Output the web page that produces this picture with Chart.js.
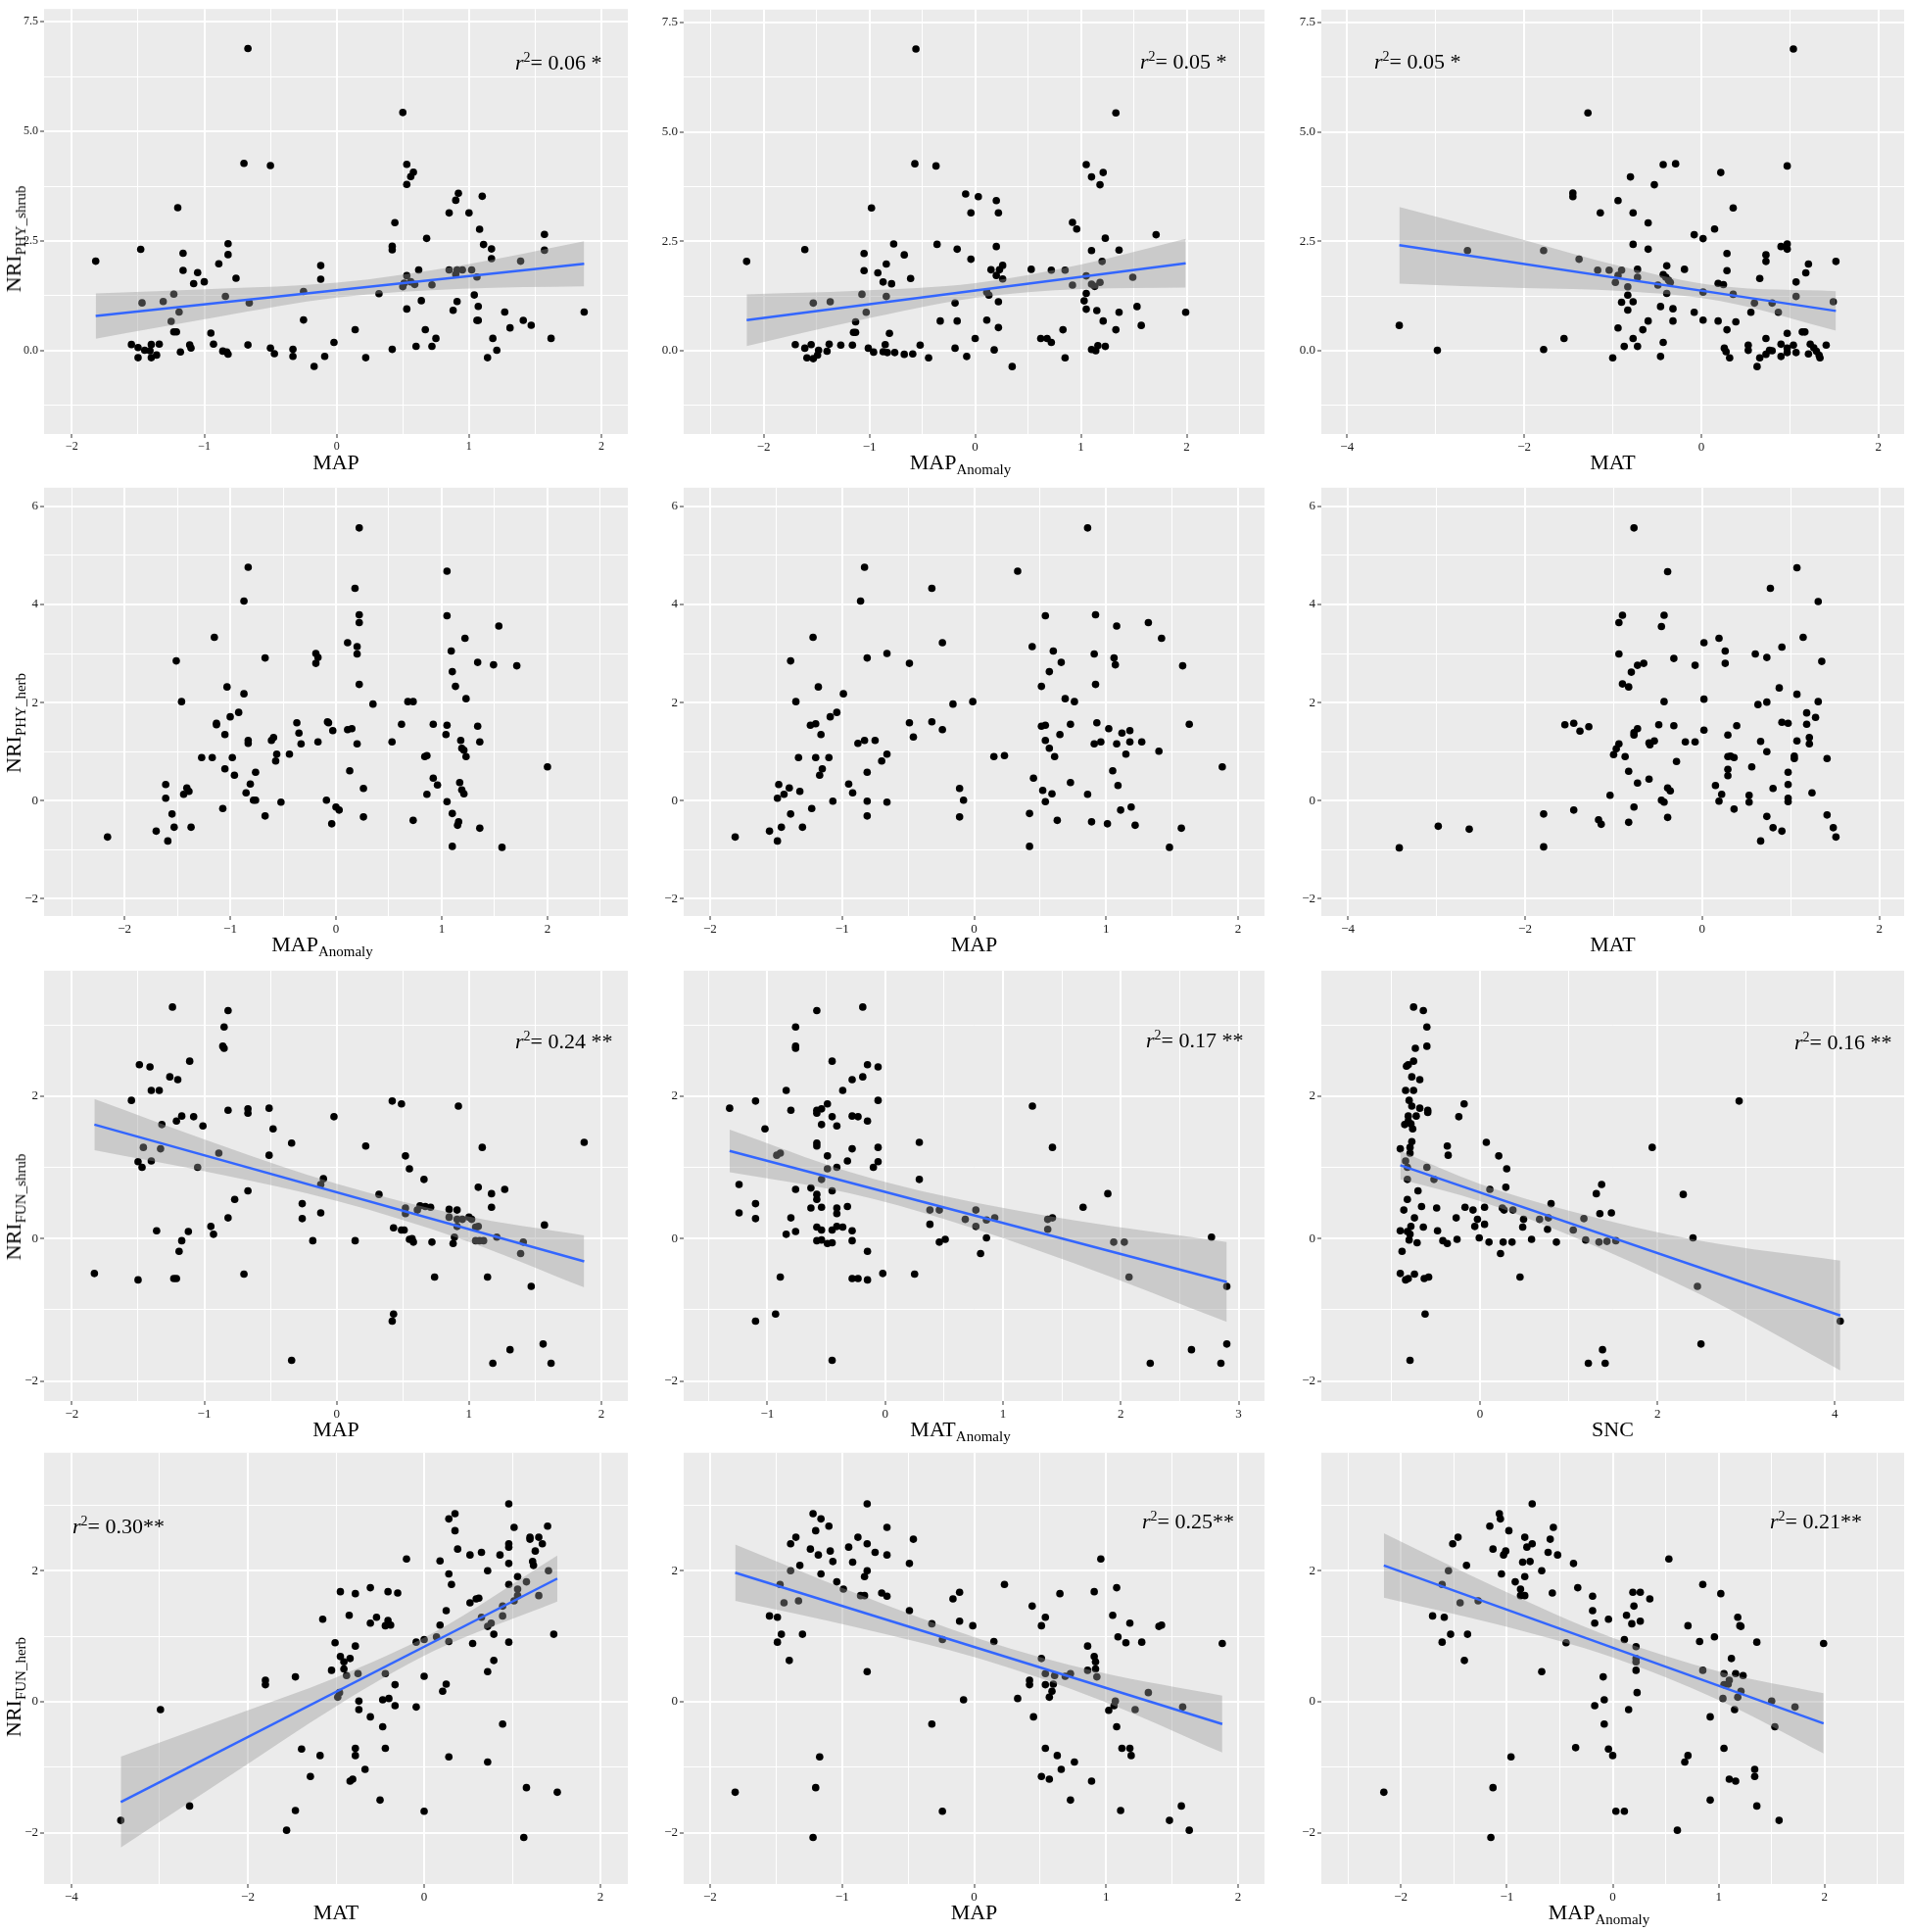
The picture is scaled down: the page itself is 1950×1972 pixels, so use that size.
<!DOCTYPE html>
<html>
<head>
<meta charset="utf-8">
<script src="https://cdn.jsdelivr.net/npm/chart.js@4.4.0/dist/chart.umd.min.js"></script>
<style>
  body { margin: 0; background: #fff; }
  #page { position: relative; width: 1950px; height: 1972px; overflow: hidden;
          font-family: "Liberation Serif", "Times New Roman", serif; color: #000; }
  .xt { position: absolute; font-size: 22px; line-height: 1; white-space: nowrap; transform: translateX(-50%); }
  .yt { position: absolute; font-size: 22px; line-height: 1; white-space: nowrap; transform: translate(-50%, -50%) rotate(-90deg); }
  .xt sub, .yt sub { font-size: 15px; vertical-align: -5px; }
  .note { position: absolute; font-size: 22px; line-height: 1; white-space: nowrap; transform: translateY(-50%); }
  .note sup { font-size: 14px; vertical-align: 8px; }
</style>
</head>
<body>
<div id="page"></div>
<script>
// tick labels (major) and minor grid positions
const mapTicks = [-2, -1, 0, 1, 2];
const mapMinor = [-1.5, -0.5, 0.5, 1.5];
const anomTicks = [-2, -1, 0, 1, 2];
const anomMinor = [-2.5, -1.5, -0.5, 0.5, 1.5, 2.5];
const matTicks = [-4, -2, 0, 2];
const matMinor = [-3, -1, 1];
const matAnomTicks = [-1, 0, 1, 2, 3];
const matAnomMinor = [-1.5, -0.5, 0.5, 1.5, 2.5];
const sncTicks = [0, 2, 4];
const sncMinor = [-1, 1, 3];
const phyShrubTicks = [0, 2.5, 5, 7.5];
const phyShrubMinor = [-1.25, 1.25, 3.75, 6.25];
const phyHerbTicks = [-2, 0, 2, 4, 6];
const phyHerbMinor = [-1, 1, 3, 5];
const funTicks = [-2, 0, 2];
const funMinor = [-1, 1, 3];

// NRI_PHY_shrub
const phyShrubMAP = [[-1.82,2.04],[-1.55,0.14],[-1.50,0.07],[-1.50,-0.16],[-1.48,2.31],[-1.47,1.09],[-1.45,0.01],[-1.41,0.00],[-1.40,0.14],[-1.40,-0.16],
[-1.36,-0.10],[-1.34,0.15],[-1.31,1.12],[-1.25,0.67],[-1.23,1.29],[-1.23,0.43],[-1.21,0.43],[-1.20,3.26],[-1.19,0.88],[-1.18,-0.03],
[-1.16,2.22],[-1.16,1.83],[-1.11,0.13],[-1.10,0.06],[-1.08,1.53],[-1.05,1.78],[-1.00,1.57],[-0.95,0.40],[-0.93,0.15],[-0.89,1.98],
[-0.86,-0.01],[-0.84,1.24],[-0.83,-0.03],[-0.82,-0.08],[-0.82,2.19],[-0.82,2.44],[-0.76,1.65],[-0.70,4.27],[-0.67,6.89],[-0.67,0.13],
[-0.66,1.09],[-0.50,4.22],[-0.50,0.06],[-0.47,-0.07],[-0.33,0.03],[-0.33,-0.13],[-0.25,1.35],[-0.25,0.70],[-0.17,-0.36],[-0.12,1.94],
[-0.12,1.63],[-0.09,-0.13],[-0.02,0.19],[0.14,0.48],[0.22,-0.16],[0.32,1.30],[0.42,0.03],[0.42,2.30],[0.42,2.38],[0.44,2.92],
[0.50,5.43],[0.50,1.46],[0.51,1.54],[0.53,4.25],[0.53,3.79],[0.53,1.71],[0.53,0.95],[0.56,3.97],[0.56,1.57],[0.58,4.07],
[0.59,1.51],[0.60,0.10],[0.62,1.84],[0.64,1.14],[0.67,0.48],[0.68,2.56],[0.72,1.50],[0.72,0.10],[0.75,0.28],[0.85,3.14],
[0.85,1.84],[0.88,0.92],[0.90,3.43],[0.90,1.74],[0.91,1.84],[0.91,1.12],[0.92,3.59],[0.95,1.84],[1.00,3.14],[1.02,1.84],
[1.04,1.27],[1.06,1.68],[1.06,0.69],[1.07,1.01],[1.07,0.69],[1.08,2.77],[1.10,3.52],[1.11,2.42],[1.14,-0.16],[1.17,2.32],
[1.17,2.10],[1.18,0.28],[1.21,0.01],[1.27,0.88],[1.31,0.52],[1.39,2.04],[1.41,0.69],[1.47,0.58],[1.57,2.65],[1.57,2.29],
[1.62,0.28],[1.87,0.88]];
const fitPhyShrubMAP = [[-1.82,0.79],[1.87,1.98]];
const bandPhyShrubMAP = [[-1.82,0.275,1.305],[-0.9,0.77,1.41],[0.0,1.21,1.55],[0.95,1.41,1.95],[1.87,1.465,2.495]];

const phyShrubMAPAnom = [[-2.16,2.04],[-1.70,0.14],[-1.61,2.31],[-1.61,0.06],[-1.59,-0.16],[-1.55,0.14],[-1.53,1.09],[-1.53,-0.18],[-1.49,-0.10],[-1.48,0.01],
[-1.40,-0.01],[-1.38,0.15],[-1.37,1.12],[-1.27,0.13],[-1.16,0.13],[-1.15,0.42],[-1.13,0.42],[-1.13,0.66],[-1.07,1.29],[-1.05,2.22],
[-1.05,1.83],[-1.03,0.88],[-1.01,0.06],[-0.98,3.26],[-0.96,-0.03],[-0.92,1.78],[-0.87,1.57],[-0.87,-0.02],[-0.85,0.14],[-0.84,1.98],
[-0.84,1.24],[-0.83,-0.04],[-0.81,0.40],[-0.79,1.53],[-0.77,2.44],[-0.76,-0.04],[-0.67,2.19],[-0.67,-0.08],[-0.61,1.65],[-0.59,-0.07],
[-0.57,4.27],[-0.56,6.89],[-0.52,0.13],[-0.44,-0.16],[-0.37,4.22],[-0.36,2.43],[-0.33,0.68],[-0.19,0.06],[-0.19,1.09],[-0.17,2.32],
[-0.17,0.68],[-0.09,3.58],[-0.08,-0.13],[-0.04,3.15],[-0.04,2.09],[0.00,0.28],[0.03,3.52],[0.11,0.70],[0.11,1.34],[0.13,1.27],
[0.15,1.85],[0.18,0.02],[0.20,3.43],[0.20,2.38],[0.20,1.72],[0.22,3.15],[0.22,1.12],[0.22,0.53],[0.23,1.85],[0.26,1.95],
[0.26,1.64],[0.35,-0.36],[0.53,1.86],[0.62,0.28],[0.68,0.28],[0.72,1.84],[0.72,0.19],[0.83,0.48],[0.85,1.84],[0.85,-0.16],
[0.92,2.93],[0.92,1.50],[0.96,2.78],[1.03,1.14],[1.05,4.25],[1.05,1.71],[1.05,0.95],[1.05,1.31],[1.10,3.97],[1.10,2.29],
[1.10,0.03],[1.10,1.52],[1.13,1.47],[1.14,0.00],[1.15,0.92],[1.16,0.12],[1.18,1.56],[1.18,3.79],[1.20,2.04],[1.21,4.07],
[1.21,0.68],[1.23,2.57],[1.23,0.10],[1.33,5.43],[1.33,0.48],[1.36,2.30],[1.36,0.88],[1.49,1.68],[1.53,1.01],[1.57,0.58],
[1.71,2.65],[1.99,0.88]];
const fitPhyShrubMAPAnom = [[-2.16,0.70],[1.99,2.00]];
const bandPhyShrubMAPAnom = [[-2.16,0.11,1.29],[-1.1,0.692,1.372],[0.0,1.207,1.547],[1.0,1.41,1.97],[1.99,1.445,2.555]];

const phyShrubMAT = [[-3.41,0.58],[-2.98,0.01],[-2.64,2.29],[-1.78,2.29],[-1.78,0.03],[-1.55,0.28],[-1.45,3.60],[-1.45,3.52],[-1.38,2.09],[-1.28,5.43],
[-1.17,1.84],[-1.14,3.15],[-1.04,1.84],[-1.00,-0.16],[-0.97,1.56],[-0.94,3.43],[-0.94,1.72],[-0.94,0.52],[-0.90,1.11],[-0.90,1.84],
[-0.87,0.10],[-0.83,1.46],[-0.83,1.27],[-0.83,0.93],[-0.80,3.97],[-0.77,3.15],[-0.77,2.43],[-0.77,1.12],[-0.77,0.28],[-0.72,1.86],
[-0.72,1.68],[-0.72,0.10],[-0.66,0.48],[-0.60,2.92],[-0.60,2.32],[-0.60,0.68],[-0.53,3.79],[-0.49,1.50],[-0.46,1.01],[-0.46,-0.13],
[-0.43,4.25],[-0.43,0.19],[-0.43,1.74],[-0.40,1.68],[-0.39,1.94],[-0.39,1.31],[-0.37,1.61],[-0.35,1.56],[-0.32,0.96],[-0.32,0.68],
[-0.29,4.27],[-0.19,1.86],[-0.08,2.65],[-0.08,0.88],[0.02,2.56],[0.02,1.34],[0.02,0.70],[0.15,2.78],[0.19,1.54],[0.19,0.68],
[0.22,4.07],[0.25,1.51],[0.26,0.06],[0.28,-0.02],[0.29,2.22],[0.29,1.83],[0.29,0.48],[0.32,-0.16],[0.36,3.26],[0.36,1.29],
[0.39,0.66],[0.53,0.13],[0.53,0.01],[0.56,0.88],[0.60,1.09],[0.63,-0.36],[0.66,1.65],[0.66,-0.16],[0.73,0.28],[0.73,2.19],
[0.73,2.04],[0.73,-0.08],[0.77,0.01],[0.80,0.00],[0.80,1.09],[0.87,0.88],[0.90,2.38],[0.90,0.15],[0.90,-0.13],[0.97,4.22],
[0.97,2.44],[0.97,2.32],[0.97,0.40],[0.97,0.06],[0.97,-0.04],[1.04,6.89],[1.04,0.13],[1.07,1.57],[1.07,1.24],[1.07,-0.04],
[1.14,0.43],[1.17,0.43],[1.18,1.78],[1.21,-0.07],[1.21,1.98],[1.23,0.15],[1.27,0.07],[1.30,-0.01],[1.33,-0.10],[1.34,-0.16],
[1.41,0.13],[1.49,1.12],[1.52,2.04]];
const fitPhyShrubMAT = [[-3.41,2.41],[1.52,0.91]];
const bandPhyShrubMAT = [[-3.41,1.535,3.285],[-2.0,1.431,2.531],[-0.9,1.366,1.926],[0.2,1.141,1.481],[1.52,0.46,1.36]];

// NRI_PHY_herb
const phyHerbMAPAnom = [[-2.16,-0.74],[-1.70,-0.62],[-1.61,0.33],[-1.61,0.05],[-1.59,-0.82],[-1.55,-0.27],[-1.53,-0.54],[-1.51,2.85],[-1.46,2.02],[-1.44,0.13],
[-1.41,0.26],[-1.39,0.19],[-1.37,-0.54],[-1.27,0.88],[-1.17,0.88],[-1.15,3.33],[-1.13,1.55],[-1.13,1.58],[-1.07,-0.16],[-1.05,0.65],
[-1.05,1.35],[-1.03,2.32],[-1.00,1.71],[-0.98,0.88],[-0.96,0.52],[-0.92,1.80],[-0.87,2.18],[-0.87,4.07],[-0.85,0.16],[-0.83,4.76],
[-0.83,1.23],[-0.83,1.17],[-0.81,0.34],[-0.78,0.01],[-0.76,0.01],[-0.76,0.58],[-0.67,2.91],[-0.67,-0.31],[-0.61,1.23],[-0.59,1.29],
[-0.56,0.95],[-0.57,0.81],[-0.52,-0.03],[-0.44,0.95],[-0.37,1.59],[-0.35,1.38],[-0.33,1.16],[-0.19,3.00],[-0.19,2.80],[-0.17,2.92],
[-0.17,1.20],[-0.09,0.01],[-0.08,1.61],[-0.07,1.59],[-0.04,-0.47],[-0.03,1.43],[0.00,-0.13],[0.03,-0.19],[0.11,3.22],[0.11,1.45],
[0.13,0.61],[0.15,1.47],[0.18,4.33],[0.20,3.14],[0.20,2.99],[0.20,1.16],[0.22,5.56],[0.22,3.79],[0.22,3.63],[0.22,2.37],
[0.26,0.25],[0.26,-0.33],[0.35,1.97],[0.53,1.20],[0.62,1.56],[0.68,2.02],[0.73,2.02],[0.73,-0.40],[0.84,0.90],[0.86,0.92],
[0.86,0.13],[0.92,1.56],[0.92,0.46],[0.96,0.32],[1.04,1.35],[1.05,4.68],[1.05,3.77],[1.05,1.54],[1.05,-0.02],[1.09,3.05],
[1.10,2.63],[1.10,-0.26],[1.10,-0.93],[1.13,2.33],[1.15,-0.50],[1.16,-0.43],[1.17,0.37],[1.18,1.23],[1.19,1.07],[1.19,0.22],
[1.21,1.03],[1.21,0.14],[1.22,3.31],[1.23,2.08],[1.23,0.90],[1.34,2.82],[1.34,1.52],[1.36,1.20],[1.36,-0.56],[1.49,2.77],
[1.54,3.56],[1.57,-0.95],[1.71,2.75],[2.00,0.69]];

const phyHerbMAP = [[-1.81,-0.74],[-1.55,-0.62],[-1.49,0.05],[-1.49,-0.82],[-1.48,0.33],[-1.46,-0.54],[-1.44,0.13],[-1.40,0.26],[-1.39,2.85],[-1.39,-0.27],
[-1.35,2.02],[-1.33,0.88],[-1.32,0.19],[-1.30,-0.54],[-1.24,1.54],[-1.23,-0.16],[-1.22,3.33],[-1.20,1.57],[-1.20,0.88],[-1.18,2.32],
[-1.17,0.52],[-1.16,1.35],[-1.15,0.65],[-1.10,0.88],[-1.09,1.71],[-1.07,-0.01],[-1.04,1.80],[-0.99,2.18],[-0.95,0.34],[-0.92,0.16],
[-0.88,1.17],[-0.86,4.07],[-0.83,4.76],[-0.83,1.23],[-0.81,2.91],[-0.81,0.58],[-0.81,-0.01],[-0.81,-0.31],[-0.75,1.23],[-0.70,0.81],
[-0.66,0.95],[-0.66,-0.03],[-0.66,3.00],[-0.49,2.80],[-0.49,1.59],[-0.46,1.30],[-0.32,4.33],[-0.32,1.61],[-0.24,1.45],[-0.24,3.22],
[-0.16,1.97],[-0.11,0.25],[-0.11,-0.33],[-0.08,0.01],[-0.01,2.02],[0.15,0.90],[0.23,0.92],[0.33,4.68],[0.42,-0.26],[0.42,-0.93],
[0.44,3.14],[0.45,0.46],[0.51,2.33],[0.51,1.52],[0.52,0.21],[0.54,3.77],[0.54,1.54],[0.54,1.23],[0.54,-0.02],[0.57,2.63],
[0.57,1.07],[0.59,0.14],[0.60,3.05],[0.61,0.90],[0.63,-0.40],[0.65,1.35],[0.66,2.82],[0.69,2.08],[0.73,1.56],[0.73,0.37],
[0.76,2.02],[0.86,5.56],[0.86,0.13],[0.89,-0.43],[0.91,2.99],[0.91,1.16],[0.92,3.79],[0.92,2.37],[0.93,1.59],[0.96,1.20],
[1.01,-0.47],[1.02,1.47],[1.05,0.61],[1.06,2.91],[1.07,2.77],[1.08,3.56],[1.08,1.16],[1.09,0.31],[1.11,-0.19],[1.12,1.38],
[1.15,0.95],[1.18,1.43],[1.18,1.20],[1.19,-0.13],[1.22,-0.50],[1.27,1.20],[1.32,3.63],[1.40,1.01],[1.42,3.31],[1.48,-0.95],
[1.57,-0.56],[1.58,2.75],[1.63,1.56],[1.88,0.69]];

const phyHerbMAT = [[-3.42,-0.96],[-2.98,-0.52],[-2.63,-0.58],[-1.79,-0.27],[-1.79,-0.94],[-1.55,1.55],[-1.45,-0.19],[-1.45,1.58],[-1.38,1.42],[-1.28,1.51],
[-1.17,-0.39],[-1.14,-0.48],[-1.04,0.11],[-1.00,0.94],[-0.97,1.06],[-0.94,3.63],[-0.94,2.99],[-0.94,1.16],[-0.90,3.78],[-0.90,2.38],
[-0.87,0.90],[-0.83,2.32],[-0.83,0.60],[-0.83,-0.44],[-0.80,2.62],[-0.77,5.56],[-0.77,1.34],[-0.77,-0.13],[-0.77,1.39],[-0.73,0.36],
[-0.73,2.76],[-0.73,1.47],[-0.66,2.80],[-0.60,1.18],[-0.60,0.44],[-0.59,1.14],[-0.54,1.22],[-0.49,1.55],[-0.46,3.55],[-0.46,0.01],
[-0.43,3.78],[-0.43,2.02],[-0.43,-0.03],[-0.39,4.67],[-0.39,0.26],[-0.39,-0.34],[-0.36,0.20],[-0.32,2.90],[-0.32,1.53],[-0.29,0.80],
[-0.19,1.20],[-0.08,2.76],[-0.08,1.20],[0.02,3.22],[0.02,2.07],[0.02,1.44],[0.15,0.31],[0.19,3.31],[0.19,-0.01],[0.22,0.13],
[0.26,3.05],[0.26,2.80],[0.29,1.34],[0.29,0.90],[0.29,0.64],[0.29,0.51],[0.32,0.91],[0.36,0.88],[0.36,-0.17],[0.39,1.53],
[0.53,0.11],[0.53,-0.03],[0.56,0.69],[0.60,2.99],[0.63,1.96],[0.66,1.21],[0.66,-0.82],[0.73,2.92],[0.73,2.01],[0.73,1.00],
[0.73,-0.32],[0.77,4.33],[0.80,0.25],[0.80,-0.55],[0.87,2.30],[0.90,3.13],[0.90,1.60],[0.90,-0.62],[0.97,1.58],[0.97,0.58],
[0.97,0.33],[0.97,0.05],[0.97,-0.02],[1.04,0.91],[1.04,0.86],[1.07,4.75],[1.07,2.17],[1.07,1.22],[1.14,3.33],[1.18,1.79],
[1.18,1.56],[1.21,1.29],[1.21,1.16],[1.24,0.16],[1.28,1.70],[1.31,4.06],[1.31,2.02],[1.35,2.84],[1.41,0.86],[1.41,-0.29],
[1.48,-0.55],[1.51,-0.74]];

// NRI_FUN_shrub
const funShrubMAP = [[-1.83,-0.49],[-1.55,1.94],[-1.50,1.08],[-1.50,-0.58],[-1.49,2.44],[-1.47,1.00],[-1.46,1.28],[-1.41,2.41],[-1.40,2.08],[-1.40,1.09],
[-1.36,0.11],[-1.34,2.08],[-1.33,1.26],[-1.32,1.60],[-1.26,2.27],[-1.24,3.25],[-1.23,-0.56],[-1.21,-0.56],[-1.21,1.65],[-1.20,2.23],
[-1.19,-0.18],[-1.17,-0.03],[-1.17,1.72],[-1.12,0.10],[-1.11,2.49],[-1.08,1.71],[-1.05,1.00],[-1.01,1.58],[-0.95,0.17],[-0.93,0.06],
[-0.89,1.20],[-0.86,2.70],[-0.85,2.67],[-0.85,2.97],[-0.82,3.20],[-0.82,1.80],[-0.82,0.29],[-0.77,0.55],[-0.70,-0.50],[-0.67,1.82],
[-0.67,1.76],[-0.67,0.67],[-0.51,1.83],[-0.51,1.17],[-0.48,1.54],[-0.34,1.34],[-0.34,-1.71],[-0.26,0.49],[-0.26,0.28],[-0.18,-0.03],
[-0.12,0.36],[-0.12,0.76],[-0.10,0.84],[-0.02,1.71],[0.14,-0.03],[0.22,1.30],[0.32,0.62],[0.42,1.93],[0.42,-1.16],[0.43,-1.06],
[0.43,0.15],[0.49,1.89],[0.49,0.12],[0.51,0.12],[0.52,1.16],[0.52,0.43],[0.52,0.35],[0.55,0.98],[0.55,-0.01],[0.57,0.00],
[0.58,-0.05],[0.61,0.40],[0.63,0.46],[0.66,0.83],[0.67,0.45],[0.71,0.44],[0.72,-0.05],[0.74,-0.54],[0.85,0.41],[0.85,0.30],
[0.88,-0.07],[0.89,0.02],[0.91,0.40],[0.91,0.27],[0.91,0.17],[0.92,1.86],[0.95,0.27],[1.00,0.30],[1.02,0.27],[1.05,0.16],
[1.05,-0.03],[1.07,0.72],[1.07,0.17],[1.08,-0.03],[1.10,1.28],[1.11,-0.03],[1.14,-0.54],[1.17,0.63],[1.17,0.44],[1.18,-1.75],
[1.21,0.02],[1.27,0.69],[1.31,-1.56],[1.39,-0.21],[1.41,-0.05],[1.47,-0.67],[1.56,-1.48],[1.57,0.19],[1.62,-1.75],[1.87,1.35]];
const fitFunShrubMAP = [[-1.83,1.60],[1.87,-0.32]];
const bandFunShrubMAP = [[-1.83,1.24,1.96],[-0.9,0.907,1.327],[0.0,0.53,0.77],[0.95,-0.013,0.327],[1.87,-0.685,0.045]];

const funShrubMATAnom = [[-1.32,1.83],[-1.24,0.76],[-1.24,0.36],[-1.10,1.93],[-1.10,0.49],[-1.10,0.28],[-1.10,-1.16],[-1.02,1.54],[-0.93,-1.06],[-0.92,1.17],
[-0.89,1.20],[-0.89,-0.54],[-0.84,2.08],[-0.84,0.06],[-0.80,1.80],[-0.80,0.29],[-0.76,2.97],[-0.76,2.70],[-0.76,2.67],[-0.76,0.69],
[-0.76,0.10],[-0.63,0.71],[-0.63,0.43],[-0.58,3.20],[-0.58,1.80],[-0.58,1.76],[-0.58,1.34],[-0.58,1.30],[-0.58,0.62],[-0.58,0.55],
[-0.58,0.16],[-0.58,-0.03],[-0.54,1.82],[-0.54,1.60],[-0.54,0.83],[-0.54,0.44],[-0.54,0.12],[-0.54,-0.02],[-0.49,1.89],[-0.49,1.16],
[-0.49,0.98],[-0.49,-0.07],[-0.45,2.49],[-0.45,1.71],[-0.45,0.67],[-0.45,0.12],[-0.45,-0.06],[-0.45,-1.71],[-0.41,1.58],[-0.41,1.00],
[-0.41,0.43],[-0.41,0.35],[-0.41,0.17],[-0.36,0.16],[-0.36,2.08],[-0.32,1.09],[-0.32,0.45],[-0.28,2.23],[-0.28,1.72],[-0.28,1.26],
[-0.28,0.11],[-0.28,-0.03],[-0.28,-0.56],[-0.23,1.71],[-0.23,-0.56],[-0.19,3.25],[-0.19,2.27],[-0.15,2.44],[-0.15,1.65],[-0.15,-0.18],
[-0.15,-0.58],[-0.10,1.00],[-0.06,2.41],[-0.06,1.94],[-0.06,1.28],[-0.06,1.08],[-0.02,-0.49],[0.25,-0.50],[0.29,1.35],[0.29,0.83],
[0.38,0.40],[0.38,0.20],[0.46,0.40],[0.46,-0.05],[0.51,-0.01],[0.68,0.27],[0.77,0.40],[0.77,0.17],[0.81,-0.21],[0.86,0.26],
[0.86,0.01],[0.93,0.29],[1.25,1.86],[1.38,0.27],[1.38,0.13],[1.42,0.29],[1.42,1.28],[1.68,0.44],[1.89,0.63],[1.94,-0.05],
[2.03,-0.05],[2.07,-0.54],[2.25,-1.75],[2.60,-1.56],[2.77,0.02],[2.85,-1.75],[2.90,-0.67],[2.90,-1.48]];
const fitFunShrubMATAnom = [[-1.32,1.23],[2.90,-0.61]];
const bandFunShrubMATAnom = [[-1.32,0.93,1.53],[-0.3,0.635,0.935],[0.5,0.276,0.596],[1.6,-0.344,0.256],[2.9,-1.17,-0.05]];

const funShrubSNC = [[-0.90,1.26],[-0.90,0.11],[-0.90,-0.49],[-0.88,-0.18],[-0.86,0.40],[-0.85,1.60],[-0.84,2.08],[-0.84,1.09],[-0.84,-0.58],[-0.83,2.42],
[-0.82,1.00],[-0.82,0.83],[-0.82,0.55],[-0.82,0.10],[-0.81,2.44],[-0.81,1.72],[-0.81,1.65],[-0.81,-0.56],[-0.80,1.94],[-0.80,-0.02],
[-0.79,-1.71],[-0.79,1.28],[-0.79,0.06],[-0.79,1.20],[-0.78,0.17],[-0.78,1.61],[-0.77,1.36],[-0.77,2.27],[-0.77,1.86],[-0.76,1.54],
[-0.75,2.08],[-0.75,3.25],[-0.75,2.49],[-0.74,-0.50],[-0.74,0.29],[-0.73,2.67],[-0.72,1.72],[-0.71,-0.06],[-0.70,0.67],[-0.68,2.23],
[-0.68,1.83],[-0.66,0.45],[-0.64,3.20],[-0.64,0.16],[-0.63,-0.56],[-0.62,-1.06],[-0.60,2.97],[-0.60,2.70],[-0.60,1.00],[-0.59,1.80],
[-0.59,1.77],[-0.58,-0.54],[-0.52,0.83],[-0.49,0.43],[-0.48,0.11],[-0.42,-0.03],[-0.37,-0.07],[-0.37,1.30],[-0.36,1.17],[-0.27,0.29],
[-0.26,-0.01],[-0.24,1.71],[-0.18,1.89],[-0.17,0.44],[-0.08,0.40],[-0.06,0.17],[-0.03,0.27],[-0.01,0.01],[0.05,0.20],[0.05,0.44],
[0.07,1.35],[0.10,-0.05],[0.11,0.69],[0.21,1.16],[0.23,-0.21],[0.25,0.43],[0.26,-0.05],[0.27,0.40],[0.29,0.72],[0.30,0.98],
[0.36,-0.05],[0.37,0.40],[0.45,-0.54],[0.48,0.16],[0.49,0.27],[0.58,-0.01],[0.67,0.27],[0.76,0.13],[0.77,0.29],[0.80,0.49],
[0.86,-0.05],[1.05,0.12],[1.17,0.28],[1.19,-0.02],[1.22,-1.75],[1.31,0.63],[1.34,-0.05],[1.35,0.35],[1.37,0.76],[1.38,-1.56],
[1.41,-1.75],[1.43,-0.04],[1.48,0.36],[1.53,-0.03],[1.94,1.28],[2.29,0.62],[2.40,0.01],[2.45,-0.67],[2.49,-1.48],[2.92,1.93],
[4.06,-1.16]];
const fitFunShrubSNC = [[-0.90,1.03],[4.06,-1.08]];
const bandFunShrubSNC = [[-0.9,0.83,1.23],[0.0,0.527,0.767],[1.0,0.052,0.392],[2.5,-0.796,-0.036],[4.06,-1.85,-0.31]];

// NRI_FUN_herb
const funHerbMAT = [[-3.44,-1.81],[-2.99,-0.12],[-2.66,-1.59],[-1.80,0.33],[-1.80,0.26],[-1.56,-1.96],[-1.46,0.38],[-1.46,-1.66],[-1.39,-0.72],[-1.29,-1.14],
[-1.18,-0.82],[-1.15,1.26],[-1.05,0.48],[-1.01,0.90],[-0.98,0.07],[-0.96,0.14],[-0.95,0.69],[-0.95,1.68],[-0.91,0.61],[-0.91,0.50],
[-0.88,0.40],[-0.85,1.32],[-0.84,0.66],[-0.84,-1.21],[-0.81,-1.18],[-0.78,0.85],[-0.78,1.65],[-0.78,-0.71],[-0.78,-0.82],[-0.75,0.43],
[-0.74,0.01],[-0.74,-0.12],[-0.67,-1.03],[-0.61,1.74],[-0.61,1.20],[-0.61,-0.23],[-0.54,1.29],[-0.50,-1.50],[-0.47,0.03],[-0.47,-0.38],
[-0.44,1.16],[-0.44,0.43],[-0.44,-0.71],[-0.41,1.68],[-0.41,1.24],[-0.40,0.05],[-0.38,1.17],[-0.33,0.26],[-0.33,-0.06],[-0.30,1.66],
[-0.20,2.18],[-0.09,0.91],[-0.09,-0.08],[0.00,0.95],[0.00,0.39],[0.00,-1.67],[0.14,0.99],[0.18,1.17],[0.18,2.15],[0.21,0.16],
[0.25,0.27],[0.25,1.39],[0.28,2.79],[0.28,1.95],[0.28,0.92],[0.28,-0.84],[0.31,1.79],[0.35,2.87],[0.35,2.61],[0.38,2.33],
[0.52,2.24],[0.52,1.51],[0.55,0.89],[0.59,1.57],[0.62,1.58],[0.65,2.28],[0.65,1.29],[0.72,2.00],[0.72,1.15],[0.72,0.46],
[0.72,-0.92],[0.76,1.20],[0.79,1.03],[0.79,0.63],[0.86,2.24],[0.89,1.46],[0.89,1.31],[0.89,-0.34],[0.96,3.02],[0.96,2.41],
[0.96,2.36],[0.96,2.11],[0.96,1.79],[0.96,0.91],[1.02,2.66],[1.02,1.54],[1.06,1.72],[1.06,1.91],[1.06,1.62],[1.13,-2.07],
[1.16,-1.31],[1.16,1.83],[1.20,2.51],[1.20,2.48],[1.23,2.14],[1.24,2.08],[1.26,2.30],[1.30,2.51],[1.30,1.62],[1.34,2.41],
[1.40,2.68],[1.41,2.00],[1.47,1.03],[1.51,-1.38]];
const fitFunHerbMAT = [[-3.44,-1.53],[1.51,1.88]];
const bandFunHerbMAT = [[-3.44,-2.225,-0.835],[-2.2,-1.126,-0.226],[-1.0,-0.069,0.371],[0.1,0.769,1.049],[1.51,1.53,2.23]];

const funHerbMAP = [[-1.81,-1.38],[-1.55,1.31],[-1.49,0.91],[-1.49,1.29],[-1.47,1.79],[-1.46,1.03],[-1.44,1.51],[-1.40,0.63],[-1.39,2.41],[-1.39,2.00],
[-1.35,2.51],[-1.33,1.54],[-1.32,2.08],[-1.30,1.03],[-1.24,2.33],[-1.22,2.87],[-1.22,-2.07],[-1.20,-1.31],[-1.20,2.61],[-1.18,2.24],
[-1.17,-0.84],[-1.16,2.79],[-1.16,1.95],[-1.10,2.68],[-1.09,2.30],[-1.07,2.14],[-1.04,1.83],[-0.99,1.72],[-0.95,2.36],[-0.92,2.13],
[-0.88,2.51],[-0.86,1.62],[-0.83,1.91],[-0.83,1.62],[-0.81,3.02],[-0.81,2.41],[-0.81,2.00],[-0.81,0.46],[-0.75,2.28],[-0.70,1.66],
[-0.66,2.24],[-0.66,2.66],[-0.66,1.61],[-0.49,2.11],[-0.49,1.39],[-0.46,2.48],[-0.32,1.19],[-0.32,-0.34],[-0.24,0.95],[-0.24,-1.67],
[-0.16,1.57],[-0.11,1.67],[-0.11,1.23],[-0.08,0.03],[-0.01,1.16],[0.15,0.92],[0.23,1.79],[0.33,0.05],[0.42,0.33],[0.42,0.26],
[0.44,1.46],[0.45,-0.23],[0.51,1.16],[0.51,0.66],[0.51,-1.14],[0.54,1.29],[0.54,0.43],[0.54,0.26],[0.54,-0.71],[0.57,0.07],
[0.57,-1.18],[0.59,0.16],[0.60,0.27],[0.61,0.40],[0.63,-0.82],[0.65,1.65],[0.66,-1.03],[0.69,0.39],[0.73,0.43],[0.73,-1.50],
[0.76,-0.92],[0.86,0.85],[0.86,0.48],[0.89,-1.21],[0.91,1.68],[0.91,0.69],[0.92,0.61],[0.92,0.50],[0.93,0.38],[0.96,2.18],
[1.02,-0.13],[1.05,1.32],[1.06,-0.06],[1.07,0.01],[1.08,1.74],[1.08,-0.38],[1.09,0.99],[1.11,-1.66],[1.12,-0.71],[1.15,0.90],
[1.18,1.20],[1.18,-0.71],[1.19,-0.82],[1.22,-0.12],[1.27,0.91],[1.32,0.14],[1.40,1.15],[1.42,1.17],[1.48,-1.81],[1.57,-1.59],
[1.58,-0.08],[1.63,-1.96],[1.88,0.89]];
const fitFunHerbMAP = [[-1.81,1.97],[1.88,-0.34]];
const bandFunHerbMAP = [[-1.81,1.54,2.4],[-0.9,1.14,1.66],[0.05,0.655,0.955],[0.95,0.032,0.452],[1.88,-0.775,0.095]];

const funHerbMAPAnom = [[-2.16,-1.38],[-1.70,1.31],[-1.61,0.91],[-1.61,1.79],[-1.59,1.29],[-1.55,2.00],[-1.53,1.03],[-1.51,2.41],[-1.46,2.51],[-1.44,1.51],
[-1.40,0.63],[-1.38,2.08],[-1.37,1.03],[-1.27,1.54],[-1.16,2.68],[-1.15,-2.07],[-1.13,2.33],[-1.13,-1.31],[-1.07,2.87],[-1.06,2.79],
[-1.05,1.95],[-1.03,2.24],[-1.01,2.30],[-0.98,2.61],[-0.96,-0.84],[-0.92,1.83],[-0.87,1.72],[-0.87,1.62],[-0.85,2.13],[-0.83,1.91],
[-0.83,2.51],[-0.83,1.62],[-0.81,2.36],[-0.78,2.14],[-0.76,2.41],[-0.76,3.02],[-0.67,2.00],[-0.67,0.46],[-0.61,2.28],[-0.59,2.48],
[-0.57,1.66],[-0.56,2.66],[-0.52,2.24],[-0.44,0.90],[-0.37,2.11],[-0.35,-0.70],[-0.33,1.74],[-0.19,1.61],[-0.19,1.39],[-0.17,1.20],
[-0.17,-0.06],[-0.09,0.38],[-0.08,0.03],[-0.08,-0.34],[-0.04,1.26],[-0.04,-0.72],[0.00,-0.82],[0.03,-1.67],[0.11,0.95],[0.11,-1.67],
[0.13,1.32],[0.15,-0.12],[0.18,1.19],[0.19,1.67],[0.20,1.46],[0.22,0.84],[0.22,0.66],[0.22,0.61],[0.22,0.48],[0.23,0.14],
[0.26,1.23],[0.26,1.67],[0.35,1.57],[0.53,2.18],[0.61,-1.96],[0.68,-0.92],[0.71,1.16],[0.71,-0.82],[0.82,0.92],[0.85,0.48],
[0.85,1.79],[0.92,-0.23],[0.92,-1.50],[0.96,0.99],[1.02,1.65],[1.04,0.05],[1.05,-0.71],[1.05,0.43],[1.05,0.26],[1.09,0.27],
[1.10,0.33],[1.10,-1.18],[1.12,0.66],[1.15,-0.12],[1.16,-1.21],[1.16,0.43],[1.18,0.07],[1.18,1.29],[1.20,1.16],[1.21,1.15],
[1.21,0.16],[1.23,0.40],[1.34,-1.03],[1.34,-1.14],[1.36,0.91],[1.36,-1.59],[1.50,0.01],[1.53,-0.38],[1.57,-1.81],[1.72,-0.08],
[1.99,0.89]];
const fitFunHerbMAPAnom = [[-2.16,2.08],[1.99,-0.33]];
const bandFunHerbMAPAnom = [[-2.16,1.59,2.57],[-1.1,1.184,1.744],[0.0,0.676,0.976],[1.0,0.025,0.465],[1.99,-0.79,0.13]];

// page layout
const colLeft = [45, 698, 1349];
const colRight = [641, 1291, 1944];
const rowTop = [0, 488, 981, 1473];
const rowBottom = [443, 935, 1430, 1923];

const rowY = [
  { min: -1.90, max: 7.79, major: phyShrubTicks, minor: phyShrubMinor, fmt: v => v.toFixed(1) },
  { min: -2.35, max: 6.38, major: phyHerbTicks, minor: phyHerbMinor },
  { min: -2.28, max: 3.76, major: funTicks, minor: funMinor },
  { min: -2.78, max: 3.80, major: funTicks, minor: funMinor }
];
const yTitles = ['NRI<sub>PHY_shrub</sub>', 'NRI<sub>PHY_herb</sub>', 'NRI<sub>FUN_shrub</sub>', 'NRI<sub>FUN_herb</sub>'];
const yTitleY = [244, 738, 1232, 1722];
const anomTitle = { text: 'MAP<sub>Anomaly</sub>', shift: -14 };

const panels = [
  { row: 0, col: 0, pts: phyShrubMAP, fit: fitPhyShrubMAP, band: bandPhyShrubMAP, x: [-2.21, 2.2, mapTicks, mapMinor], xt: { text: 'MAP' }, note: [526, 63, '0.06 *'], tick: 12 },
  { row: 0, col: 1, pts: phyShrubMAPAnom, fit: fitPhyShrubMAPAnom, band: bandPhyShrubMAPAnom, x: [-2.755, 2.735, anomTicks, anomMinor], xt: anomTitle, note: [1164, 62, '0.05 *'] },
  { row: 0, col: 2, pts: phyShrubMAT, fit: fitPhyShrubMAT, band: bandPhyShrubMAT, x: [-4.29, 2.29, matTicks, matMinor], xt: { text: 'MAT' }, note: [1403, 62, '0.05 *'] },
  { row: 1, col: 0, pts: phyHerbMAPAnom, x: [-2.76, 2.76, anomTicks, anomMinor], xt: anomTitle },
  { row: 1, col: 1, pts: phyHerbMAP, x: [-2.2, 2.2, mapTicks, mapMinor], xt: { text: 'MAP' } },
  { row: 1, col: 2, pts: phyHerbMAT, x: [-4.3, 2.28, matTicks, matMinor], xt: { text: 'MAT' } },
  { row: 2, col: 0, pts: funShrubMAP, fit: fitFunShrubMAP, band: bandFunShrubMAP, x: [-2.21, 2.2, mapTicks, mapMinor], xt: { text: 'MAP' }, note: [526, 1062, '0.24 **'] },
  { row: 2, col: 1, pts: funShrubMATAnom, fit: fitFunShrubMATAnom, band: bandFunShrubMATAnom, x: [-1.71, 3.22, matAnomTicks, matAnomMinor], xt: { text: 'MAT<sub>Anomaly</sub>', shift: -14 }, note: [1170, 1061, '0.17 **'] },
  { row: 2, col: 2, pts: funShrubSNC, fit: fitFunShrubSNC, band: bandFunShrubSNC, x: [-1.79, 4.78, sncTicks, sncMinor], xt: { text: 'SNC' }, note: [1832, 1063, '0.16 **'] },
  { row: 3, col: 0, pts: funHerbMAT, fit: fitFunHerbMAT, band: bandFunHerbMAT, x: [-4.31, 2.31, matTicks, matMinor], xt: { text: 'MAT' }, note: [74, 1557, '0.30**'] },
  { row: 3, col: 1, pts: funHerbMAP, fit: fitFunHerbMAP, band: bandFunHerbMAP, x: [-2.2, 2.2, mapTicks, mapMinor], xt: { text: 'MAP' }, note: [1166, 1552, '0.25**'] },
  { row: 3, col: 2, pts: funHerbMAPAnom, fit: fitFunHerbMAPAnom, band: bandFunHerbMAPAnom, x: [-2.75, 2.75, anomTicks, anomMinor], xt: anomTitle, note: [1807, 1552, '0.21**'] }
];

// grey ggplot panel behind the grid
const panelBg = {
  id: 'panelBg',
  beforeDraw(chart) {
    const a = chart.chartArea, c = chart.ctx;
    c.save();
    c.fillStyle = '#EBEBEB';
    c.fillRect(a.left, a.top, a.right - a.left, a.bottom - a.top);
    c.restore();
  }
};

const minus = v => (v < 0 ? '\u2212' + Math.abs(v) : String(v));

function axis(min, max, major, minor, fmt, size, fontSize) {
  const all = major.concat(minor).sort((a, b) => a - b);
  return {
    type: 'linear',
    min: min,
    max: max,
    afterBuildTicks: s => { s.ticks = all.map(v => ({ value: v })); },
    afterFit: s => { if (s.isHorizontal()) s.height = size; else s.width = size; },
    grid: {
      color: '#FFFFFF',
      lineWidth: c => (major.includes(c.tick.value) ? 2 : 1),
      tickColor: c => (major.includes(c.tick.value) ? '#333333' : 'rgba(0,0,0,0)'),
      tickLength: 4,
      tickWidth: 1
    },
    border: { display: false },
    ticks: {
      autoSkip: false,
      maxRotation: 0,
      padding: 2,
      color: '#1a1a1a',
      font: { family: 'Liberation Serif', size: fontSize },
      callback: v => (major.includes(v) ? fmt(v) : '')
    }
  };
}

const page = document.getElementById('page');

panels.forEach(p => {
  const left = p.col * 650;
  const top = rowTop[p.row];
  const plotH = rowBottom[p.row] - rowTop[p.row];
  const w = 650, h = plotH + 26;
  const ry = rowY[p.row];
  const fs = p.tick || 13;

  const canvas = document.createElement('canvas');
  canvas.width = w;
  canvas.height = h;
  canvas.style.cssText = 'position:absolute;left:' + left + 'px;top:' + top + 'px;width:' + w + 'px;height:' + h + 'px';
  page.appendChild(canvas);

  const datasets = [{
    type: 'scatter',
    data: p.pts.map(d => ({ x: d[0], y: d[1] })),
    pointRadius: 3.8,
    pointBackgroundColor: '#000000',
    pointBorderWidth: 0,
    order: 3
  }];
  if (p.band) {
    datasets.push({
      type: 'line',
      data: p.band.map(b => ({ x: b[0], y: b[1] })),
      borderWidth: 0,
      borderColor: 'rgba(0,0,0,0)',
      pointRadius: 0,
      cubicInterpolationMode: 'monotone',
      fill: false,
      order: 2
    }, {
      type: 'line',
      data: p.band.map(b => ({ x: b[0], y: b[2] })),
      borderWidth: 0,
      borderColor: 'rgba(0,0,0,0)',
      pointRadius: 0,
      cubicInterpolationMode: 'monotone',
      fill: '-1',
      backgroundColor: 'rgba(153,153,153,0.4)',
      order: 1
    }, {
      type: 'line',
      data: p.fit.map(d => ({ x: d[0], y: d[1] })),
      borderColor: '#3366FF',
      borderWidth: 2.5,
      pointRadius: 0,
      fill: false,
      order: 0
    });
  }

  new Chart(canvas, {
    type: 'scatter',
    data: { datasets: datasets },
    options: {
      responsive: false,
      devicePixelRatio: 1,
      animation: false,
      events: [],
      layout: { autoPadding: false, padding: { left: 0, top: 0, bottom: 0, right: 650 - (colRight[p.col] - left) } },
      plugins: { legend: { display: false }, tooltip: { enabled: false } },
      scales: {
        x: axis(p.x[0], p.x[1], p.x[2], p.x[3], minus, 26, fs),
        y: axis(ry.min, ry.max, ry.major, ry.minor, ry.fmt || minus, colLeft[p.col] - left, fs)
      }
    },
    plugins: [panelBg]
  });

  // x axis title
  const xt = document.createElement('div');
  xt.className = 'xt';
  xt.innerHTML = p.xt.text;
  xt.style.left = ((colLeft[p.col] + colRight[p.col]) / 2 + (p.xt.shift || 0)) + 'px';
  xt.style.top = (rowBottom[p.row] + 18) + 'px';
  page.appendChild(xt);

  // y axis title only on the first column
  if (p.col === 0) {
    const yt = document.createElement('div');
    yt.className = 'yt';
    yt.innerHTML = yTitles[p.row];
    yt.style.left = '16px';
    yt.style.top = yTitleY[p.row] + 'px';
    page.appendChild(yt);
  }

  // r squared note
  if (p.note) {
    const n = document.createElement('div');
    n.className = 'note';
    n.innerHTML = '<i>r</i><sup>2</sup>= ' + p.note[2];
    n.style.left = p.note[0] + 'px';
    n.style.top = p.note[1] + 'px';
    page.appendChild(n);
  }
});
</script>
</body>
</html>
